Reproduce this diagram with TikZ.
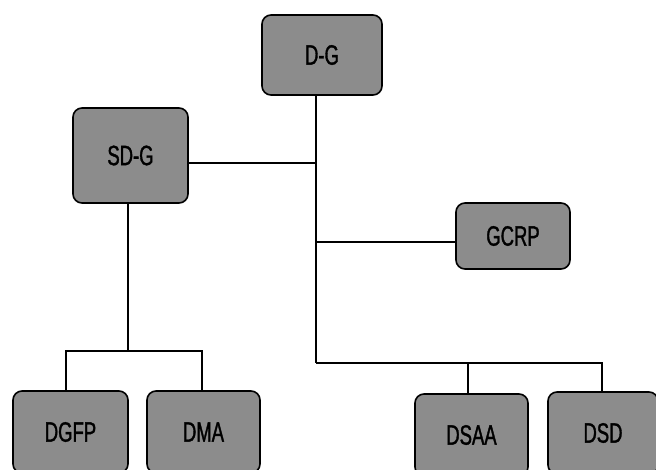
\documentclass[tikz,border=0pt]{standalone}
\usepackage{fontspec}
\newfontfamily\boxfont{Liberation Sans}[FakeStretch=0.66,FakeBold=1.2]
\usetikzlibrary{positioning}

\tikzset{
  unit/.style={draw=black, line width=1.6pt, rounded corners=9pt, fill=black!45,
    inner sep=0pt, font=\boxfont\fontsize{28}{32}\selectfont},
  link/.style={line width=1.3pt}
}

\begin{document}
\begin{tikzpicture}[x=1pt,y=-1pt]

% frame of the page
\useasboundingbox (0,0) rectangle (656,469);
\clip (0,0) rectangle (656,469);

% boxes
\node[unit, minimum width=120pt, minimum height=80pt] (dg) at (322,55) {D-G};
\node[unit, minimum width=115pt, minimum height=95pt] (sdg) at (130.5,155.5) {SD-G};
\node[unit, minimum width=114pt, minimum height=66pt] (gcrp) at (513,236) {GCRP};
\node[unit, minimum width=115pt, minimum height=82pt] (dgfp) at (70.5,432) {DGFP};
\node[unit, minimum width=113pt, minimum height=82pt] (dma) at (203.5,432) {DMA};
\node[unit, minimum width=113pt, minimum height=82pt] (dsaa) at (471.5,435) {DSAA};
\node[unit, minimum width=110pt, minimum height=82pt] (dsd) at (603,433) {DSD};

% joints
\coordinate (j1) at (316,163);
\coordinate (j2) at (316,242);
\coordinate (j3) at (316,363);
\coordinate (j4) at (128,351);
\coordinate (b1) at (66,351);
\coordinate (b2) at (202,351);
\coordinate (b3) at (468,363);
\coordinate (b4) at (602,363);

% main trunk
\draw[link] (dg.south -| j1) -- (j3);
\draw[link] (sdg.east |- j1) -- (j1);
\draw[link] (j2) -- (gcrp.west |- j2);

% left branch
\draw[link] (sdg.south -| j4) -- (j4);
\draw[link] (dgfp.north -| b1) -- (b1) -- (b2) -- (dma.north -| b2);

% right branch
\draw[link] (j3) -- (b4) -- (dsd.north -| b4);
\draw[link] (b3) -- (dsaa.north -| b3);

\end{tikzpicture}
\end{document}
